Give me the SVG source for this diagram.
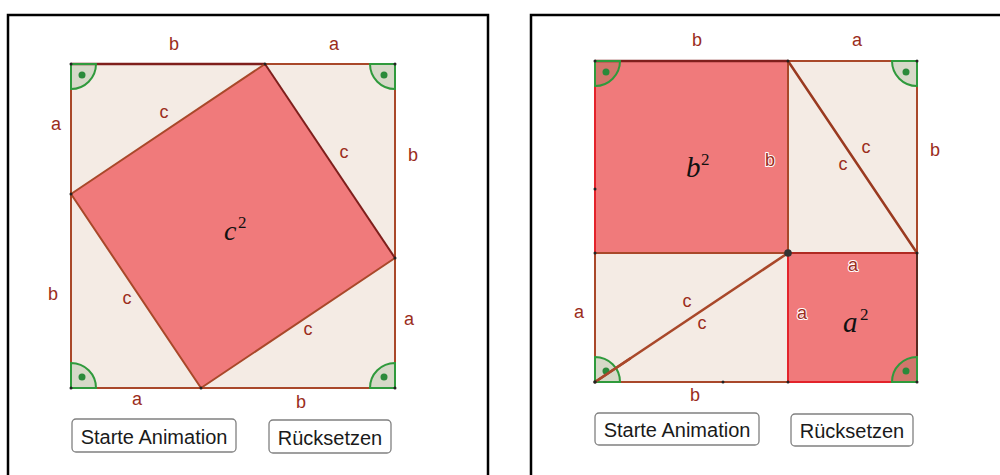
<svg xmlns="http://www.w3.org/2000/svg" width="1000" height="475" viewBox="0 0 1000 475">
<style>
.frame{fill:#fff;stroke:#000;stroke-width:2.5}
.beige{fill:#f4ebe4}
.red{fill:#f07a7b}
.edge{stroke:#a9482a;stroke-width:2;fill:none;stroke-linecap:round}
.dark{stroke:#7f1f1c;stroke-width:2.5;fill:none}
.redge{stroke:#e3232b;stroke-width:2;fill:none}
.ang{fill:rgba(0,90,0,0.12);stroke:#2f9a3c;stroke-width:2}
.adot{fill:#2a8a3a}
.pt{fill:#222}
.lbl{font-family:"Liberation Sans",Arial,sans-serif;font-size:18px;fill:#9b2d1c;text-anchor:middle}
.halo{stroke:#fff;stroke-width:2;paint-order:stroke;stroke-linejoin:round}
.math{font-family:"Liberation Serif","Times New Roman",serif;fill:#111}
.btn{fill:#fff;stroke:#808080;stroke-width:1.3}
.btxt{font-family:"Liberation Sans",Arial,sans-serif;font-size:20px;fill:#1a1a1a;text-anchor:middle}
</style>
<rect width="1000" height="475" fill="#fff"/>

<!-- Left panel -->
<g id="left-panel">
<rect class="frame" x="8" y="15" width="480" height="470"/>
<g id="left-square">
<rect class="beige" x="71" y="64" width="324" height="324"/>
<polygon class="red" points="265,64 395,258 201,388 71,194"/>
<line class="dark" x1="71" y1="64" x2="265" y2="64"/>
<line class="edge" x1="265" y1="64" x2="395" y2="64"/>
<line class="edge" x1="71" y1="64" x2="71" y2="388"/>
<line class="edge" x1="395" y1="64" x2="395" y2="388"/>
<line class="edge" x1="71" y1="388" x2="395" y2="388"/>
<line class="edge" x1="265" y1="64" x2="71" y2="194"/>
<line class="dark" x1="265" y1="64" x2="395" y2="258" style="stroke-width:2"/>
<line class="edge" x1="395" y1="258" x2="201" y2="388"/>
<line class="edge" x1="201" y1="388" x2="71" y2="194"/>
</g>
<g id="left-angles">
<path class="ang" d="M71,64 L96,64 A25,25 0 0 1 71,89 Z"/>
<circle class="adot" cx="82" cy="75" r="3.5"/>
<path class="ang" d="M395,64 L395,89 A25,25 0 0 1 370,64 Z"/>
<circle class="adot" cx="384" cy="75" r="3.5"/>
<path class="ang" d="M71,388 L71,363 A25,25 0 0 1 96,388 Z"/>
<circle class="adot" cx="82" cy="377" r="3.5"/>
<path class="ang" d="M395,388 L370,388 A25,25 0 0 1 395,363 Z"/>
<circle class="adot" cx="384" cy="377" r="3.5"/>
</g>
<g id="left-points">
<circle class="pt" cx="71" cy="64" r="1.5"/><circle class="pt" cx="265" cy="64" r="1.5"/>
<circle class="pt" cx="395" cy="64" r="1.5"/><circle class="pt" cx="71" cy="194" r="1.5"/>
<circle class="pt" cx="395" cy="258" r="1.5"/><circle class="pt" cx="71" cy="388" r="1.5"/>
<circle class="pt" cx="201" cy="388" r="1.5"/><circle class="pt" cx="395" cy="388" r="1.5"/>
</g>
<g id="left-labels">
<text class="lbl" x="174" y="50">b</text>
<text class="lbl" x="334" y="50">a</text>
<text class="lbl" x="56" y="130">a</text>
<text class="lbl" x="53" y="300">b</text>
<text class="lbl" x="413" y="161">b</text>
<text class="lbl" x="409" y="325">a</text>
<text class="lbl" x="137" y="405">a</text>
<text class="lbl" x="301" y="408">b</text>
<text class="lbl" x="164" y="118">c</text>
<text class="lbl" x="344" y="158">c</text>
<text class="lbl" x="127" y="304">c</text>
<text class="lbl" x="308" y="335">c</text>
<text class="math" x="224" y="240" font-size="28" font-style="italic">c</text>
<text class="math" x="238" y="228" font-size="17">2</text>
</g>
<g id="left-btn-start">
<rect class="btn" x="72" y="419" width="164" height="33" rx="4"/>
<text class="btxt" x="154" y="444">Starte Animation</text>
</g>
<g id="left-btn-reset">
<rect class="btn" x="269" y="420" width="122" height="33" rx="4"/>
<text class="btxt" x="330" y="445">Rücksetzen</text>
</g>
</g>

<!-- Right panel -->
<g id="right-panel">
<rect class="frame" x="531" y="15" width="480" height="470"/>
<g id="right-square">
<rect class="red" x="595" y="61" width="193" height="192"/>
<rect class="beige" x="788" y="61" width="129" height="192"/>
<rect class="beige" x="595" y="253" width="193" height="129"/>
<rect class="red" x="788" y="253" width="129" height="129"/>
<line class="dark" x1="595" y1="61" x2="788" y2="61"/>
<line class="edge" x1="788" y1="61" x2="917" y2="61"/>
<line class="redge" x1="595" y1="61" x2="595" y2="253"/>
<line class="edge" x1="595" y1="253" x2="595" y2="382"/>
<line class="edge" x1="788" y1="61" x2="788" y2="253"/>
<line class="edge" x1="595" y1="253" x2="788" y2="253"/>
<line class="edge" x1="917" y1="61" x2="917" y2="253"/>
<line class="edge" x1="595" y1="382" x2="788" y2="382"/>
<line class="redge" x1="788" y1="253" x2="788" y2="382"/>
<line class="redge" x1="788" y1="382" x2="917" y2="382"/>
<line class="dark" x1="788" y1="253" x2="917" y2="253" style="stroke:#b02a22;stroke-width:2"/>
<line class="dark" x1="917" y1="253" x2="917" y2="382" style="stroke:#5a2a20;stroke-width:2"/>
<line class="edge" x1="788" y1="61" x2="917" y2="253" style="stroke:#9a3a20;stroke-width:2.5"/>
<line class="edge" x1="595" y1="382" x2="788" y2="253" style="stroke-width:2.5"/>
</g>
<g id="right-angles">
<path class="ang" d="M595,61 L620,61 A25,25 0 0 1 595,86 Z"/>
<circle class="adot" cx="606" cy="72" r="3.5"/>
<path class="ang" d="M917,61 L917,86 A25,25 0 0 1 892,61 Z"/>
<circle class="adot" cx="906" cy="72" r="3.5"/>
<path class="ang" d="M595,382 L595,357 A25,25 0 0 1 620,382 Z"/>
<circle class="adot" cx="606" cy="371" r="3.5"/>
<path class="ang" d="M917,382 L892,382 A25,25 0 0 1 917,357 Z"/>
<circle class="adot" cx="906" cy="371" r="3.5"/>
<line class="edge" x1="595" y1="382" x2="630" y2="358.6" style="stroke-width:2.5"/>
</g>
<g id="right-points">
<circle class="pt" cx="595" cy="61" r="1.5"/><circle class="pt" cx="788" cy="61" r="1.5"/>
<circle class="pt" cx="917" cy="61" r="1.5"/><circle class="pt" cx="595" cy="189" r="1.5"/>
<circle class="pt" cx="595" cy="253" r="1.5"/><circle class="pt" cx="917" cy="253" r="1.5"/>
<circle class="pt" cx="595" cy="382" r="1.8"/><circle class="pt" cx="723" cy="382" r="1.5"/>
<circle class="pt" cx="788" cy="382" r="1.5"/><circle class="pt" cx="917" cy="382" r="1.5"/>
<circle cx="788" cy="253" r="3.8" fill="#333"/>
</g>
<g id="right-labels">
<text class="lbl" x="697" y="46">b</text>
<text class="lbl" x="857" y="46">a</text>
<text class="lbl" x="935" y="156">b</text>
<text class="lbl" x="579" y="318">a</text>
<text class="lbl" x="695" y="401">b</text>
<text class="lbl halo" x="770" y="166">b</text>
<text class="lbl" x="866" y="153">c</text>
<text class="lbl" x="843" y="170">c</text>
<text class="lbl halo" x="853" y="271">a</text>
<text class="lbl halo" x="802" y="319">a</text>
<text class="lbl" x="687" y="307">c</text>
<text class="lbl" x="702" y="329">c</text>
<text class="math" x="686" y="177" font-size="29" font-style="italic">b</text>
<text class="math" x="701" y="165" font-size="17">2</text>
<text class="math" x="843" y="332" font-size="29" font-style="italic">a</text>
<text class="math" x="860" y="320" font-size="17">2</text>
</g>
<g id="right-btn-start">
<rect class="btn" x="595" y="413" width="164" height="32" rx="4"/>
<text class="btxt" x="677" y="437">Starte Animation</text>
</g>
<g id="right-btn-reset">
<rect class="btn" x="791" y="414" width="122" height="32" rx="4"/>
<text class="btxt" x="852" y="438">Rücksetzen</text>
</g>
</g>
</svg>
